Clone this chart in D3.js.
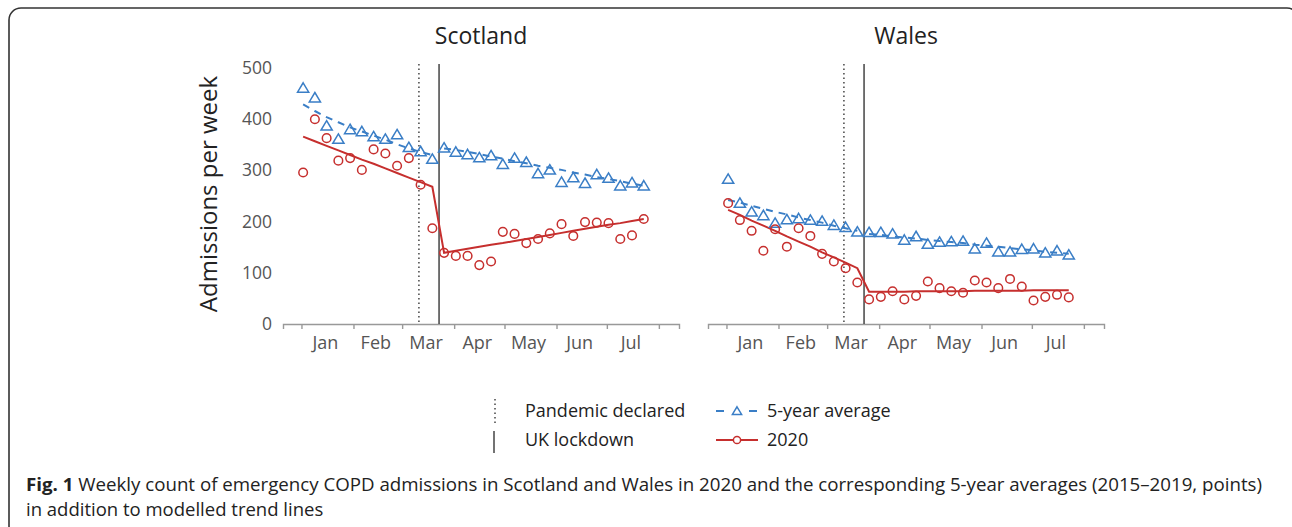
<!DOCTYPE html>
<html>
<head>
<meta charset="utf-8">
<script src="https://cdn.jsdelivr.net/npm/d3@7"></script>
<style>
body { margin: 0; background: #fff; }
text { font-family: "Open Sans", "Noto Sans", sans-serif; }
</style>
</head>
<body>
<script>
// week dates (x positions of the weekly points)
var weeks = ["2020-01-02","2020-01-09","2020-01-16","2020-01-23","2020-01-30","2020-02-06",
  "2020-02-13","2020-02-20","2020-02-27","2020-03-05","2020-03-12","2020-03-19",
  "2020-03-26","2020-04-02","2020-04-09","2020-04-16","2020-04-23","2020-04-30",
  "2020-05-07","2020-05-14","2020-05-21","2020-05-28","2020-06-04","2020-06-11",
  "2020-06-18","2020-06-25","2020-07-02","2020-07-09","2020-07-16","2020-07-23"];

var months = ["Jan","Feb","Mar","Apr","May","Jun","Jul"];
var yTicks = [0,100,200,300,400,500];
var pandemicDate = "2020-03-11";
var lockdownDate = "2020-03-23";

// Scotland
var scotAvg = [461,442,387,361,380,376,366,361,370,345,337,322,344,336,331,325,329,312,324,316,294,301,277,286,275,292,285,270,276,270];
var scot2020 = [296,400,363,319,324,301,341,333,309,324,272,187,139,133,133,115,122,180,176,158,166,177,195,172,199,198,197,166,173,205];
var scotAvgTrend = [429,416,404,394,384,376,368,360,351,343,336,330,343,340,336,332,327,323,318,314,309,305,301,296,292,287,283,279,274,270];
var scotTrend = [366,357,348,339,330,321,313,304,295,286,277,268,139,143,147,151,155,158,162,166,170,174,178,182,186,190,194,197,201,205];

// Wales
var walesAvg = [283,236,219,212,197,204,206,203,201,193,189,180,179,179,176,164,171,156,160,161,162,147,158,141,141,146,147,139,143,135];
var wales2020 = [236,203,182,143,185,151,187,172,137,122,109,81,48,53,64,48,55,83,70,64,61,85,81,70,88,73,46,53,57,52];
var walesAvgTrend = [242,237,231,225,219,214,208,203,198,192,187,182,176,174,171,169,167,164,162,160,158,155,153,151,148,146,144,141,139,137];
var walesTrend = [223,213,202,192,182,171,161,151,140,130,120,109,63,63,63,63,64,64,64,64,64,65,65,65,65,65,66,66,66,66];

var panels = [
  {name: "Scotland", avg: scotAvg, y2020: scot2020, avgTrend: scotAvgTrend, trend: scotTrend, left: 283, yLabels: true},
  {name: "Wales", avg: walesAvg, y2020: wales2020, avgTrend: walesAvgTrend, trend: walesTrend, left: 708, yLabels: false}
];

var blue = "#3a7ec6";
var red = "#c62f2e";
var parse = d3.timeParse("%Y-%m-%d");
var panelW = 396;

var svg = d3.select("body").append("svg")
  .attr("width", 1292).attr("height", 527);

// figure frame
svg.append("rect")
  .attr("x", 9).attr("y", 8).attr("width", 1290).attr("height", 530)
  .attr("rx", 12).attr("ry", 12)
  .attr("fill", "none").attr("stroke", "#333").attr("stroke-width", 1.6);

var y = d3.scaleLinear().domain([0, 500]).range([324, 68]);

var tri = "M0,-5.2L5.6,4.2L-5.6,4.2Z";

panels.forEach(function(p) {
  var x = d3.scaleTime()
    .domain([parse("2019-12-21"), parse("2020-08-13")])
    .range([p.left, p.left + panelW]);
  var g = svg.append("g");

  g.append("text")
    .attr("x", p.left + panelW / 2).attr("y", 44)
    .attr("text-anchor", "middle")
    .style("font-size", "23px").style("fill", "#222")
    .text(p.name);

  // x axis with month ticks
  var monthStarts = d3.timeMonth.range(parse("2020-01-01"), parse("2020-08-02"));
  var xAxis = g.append("g").attr("transform", "translate(0,324)")
    .call(d3.axisBottom(x).tickValues(monthStarts).tickSize(5).tickFormat(""));
  xAxis.select(".domain").attr("stroke", "#999").attr("stroke-width", 1.4);
  xAxis.selectAll(".tick line").attr("stroke", "#999").attr("stroke-width", 1.4);

  g.selectAll(".mlab").data(months).enter().append("text")
    .attr("x", function(d, i) {
      var a = monthStarts[i], b = monthStarts[i + 1];
      return (x(a) + x(b)) / 2 - 2;
    })
    .attr("y", 349)
    .attr("text-anchor", "middle")
    .style("font-size", "18px").style("fill", "#555")
    .text(function(d) { return d; });

  if (p.yLabels) {
    g.selectAll(".ylab").data(yTicks).enter().append("text")
      .attr("x", 272).attr("y", function(d) { return y(d) + 6; })
      .attr("text-anchor", "end")
      .style("font-size", "17.5px").style("fill", "#555")
      .text(function(d) { return d; });
  }

  // event lines
  g.append("line")
    .attr("x1", x(parse(pandemicDate))).attr("x2", x(parse(pandemicDate)))
    .attr("y1", 64).attr("y2", 324)
    .attr("stroke", "#444").attr("stroke-width", 1.5).attr("stroke-dasharray", "1.5,3");
  g.append("line")
    .attr("x1", x(parse(lockdownDate))).attr("x2", x(parse(lockdownDate)))
    .attr("y1", 64).attr("y2", 324)
    .attr("stroke", "#444").attr("stroke-width", 1.5);

  var pre = d3.range(0, 12), post = d3.range(12, 30);
  var ln = d3.line().x(function(i) { return x(parse(weeks[i])); });

  // 5-year average trend (dashed, two segments)
  [pre, post].forEach(function(seg) {
    g.append("path")
      .attr("d", ln.y(function(i) { return y(p.avgTrend[i]); })(seg))
      .attr("fill", "none").attr("stroke", blue).attr("stroke-width", 2)
      .attr("stroke-dasharray", "7,6");
  });
  // 2020 trend (solid, continuous)
  g.append("path")
    .attr("d", ln.y(function(i) { return y(p.trend[i]); })(d3.range(0, 30)))
    .attr("fill", "none").attr("stroke", red).attr("stroke-width", 2);

  g.selectAll(".tri").data(p.avg).enter().append("path")
    .attr("d", tri)
    .attr("transform", function(d, i) { return "translate(" + x(parse(weeks[i])) + "," + y(d) + ")"; })
    .attr("fill", "none").attr("stroke", blue).attr("stroke-width", 1.5);

  g.selectAll(".circ").data(p.y2020).enter().append("circle")
    .attr("cx", function(d, i) { return x(parse(weeks[i])); })
    .attr("cy", function(d) { return y(d); })
    .attr("r", 4.3)
    .attr("fill", "none").attr("stroke", red).attr("stroke-width", 1.5);
});

// y axis title
svg.append("text")
  .attr("transform", "translate(217,194) rotate(-90)")
  .attr("text-anchor", "middle")
  .style("font-size", "24px").style("fill", "#222")
  .text("Admissions per week");

// legend
var lg = svg.append("g");
lg.append("line").attr("x1", 495).attr("x2", 495).attr("y1", 399).attr("y2", 423)
  .attr("stroke", "#444").attr("stroke-width", 1.5).attr("stroke-dasharray", "1.5,3");
lg.append("line").attr("x1", 494).attr("x2", 494).attr("y1", 431).attr("y2", 453)
  .attr("stroke", "#444").attr("stroke-width", 1.5);
lg.append("text").attr("x", 525).attr("y", 417).style("font-size", "18px").style("fill", "#222").text("Pandemic declared");
lg.append("text").attr("x", 525).attr("y", 446).style("font-size", "18px").style("fill", "#222").text("UK lockdown");

lg.append("line").attr("x1", 716).attr("x2", 758).attr("y1", 411).attr("y2", 411)
  .attr("stroke", blue).attr("stroke-width", 2).attr("stroke-dasharray", "8,25");
lg.append("path").attr("d", "M0,-4.2L4.6,3.4L-4.6,3.4Z").attr("transform", "translate(737,411)")
  .attr("fill", "none").attr("stroke", blue).attr("stroke-width", 1.5);
lg.append("text").attr("x", 767).attr("y", 417).style("font-size", "18px").style("fill", "#222").text("5-year average");

lg.append("line").attr("x1", 716).attr("x2", 758).attr("y1", 440).attr("y2", 440)
  .attr("stroke", red).attr("stroke-width", 2);
lg.append("circle").attr("cx", 737).attr("cy", 440).attr("r", 3.6)
  .attr("fill", "#fff").attr("stroke", red).attr("stroke-width", 1.5);
lg.append("text").attr("x", 767).attr("y", 446).style("font-size", "18px").style("fill", "#222").text("2020");

// caption
var cap1 = svg.append("text").attr("x", 26).attr("y", 491).style("font-size", "18.5px").style("fill", "#222");
cap1.append("tspan").style("font-weight", "bold").text("Fig. 1");
cap1.append("tspan").text(" Weekly count of emergency COPD admissions in Scotland and Wales in 2020 and the corresponding 5-year averages (2015\u20132019, points)");
cap1.attr("textLength", 1236).attr("lengthAdjust", "spacingAndGlyphs");
svg.append("text").attr("x", 26).attr("y", 516).style("font-size", "18.5px").style("fill", "#222")
  .text("in addition to modelled trend lines");
</script>
</body>
</html>
